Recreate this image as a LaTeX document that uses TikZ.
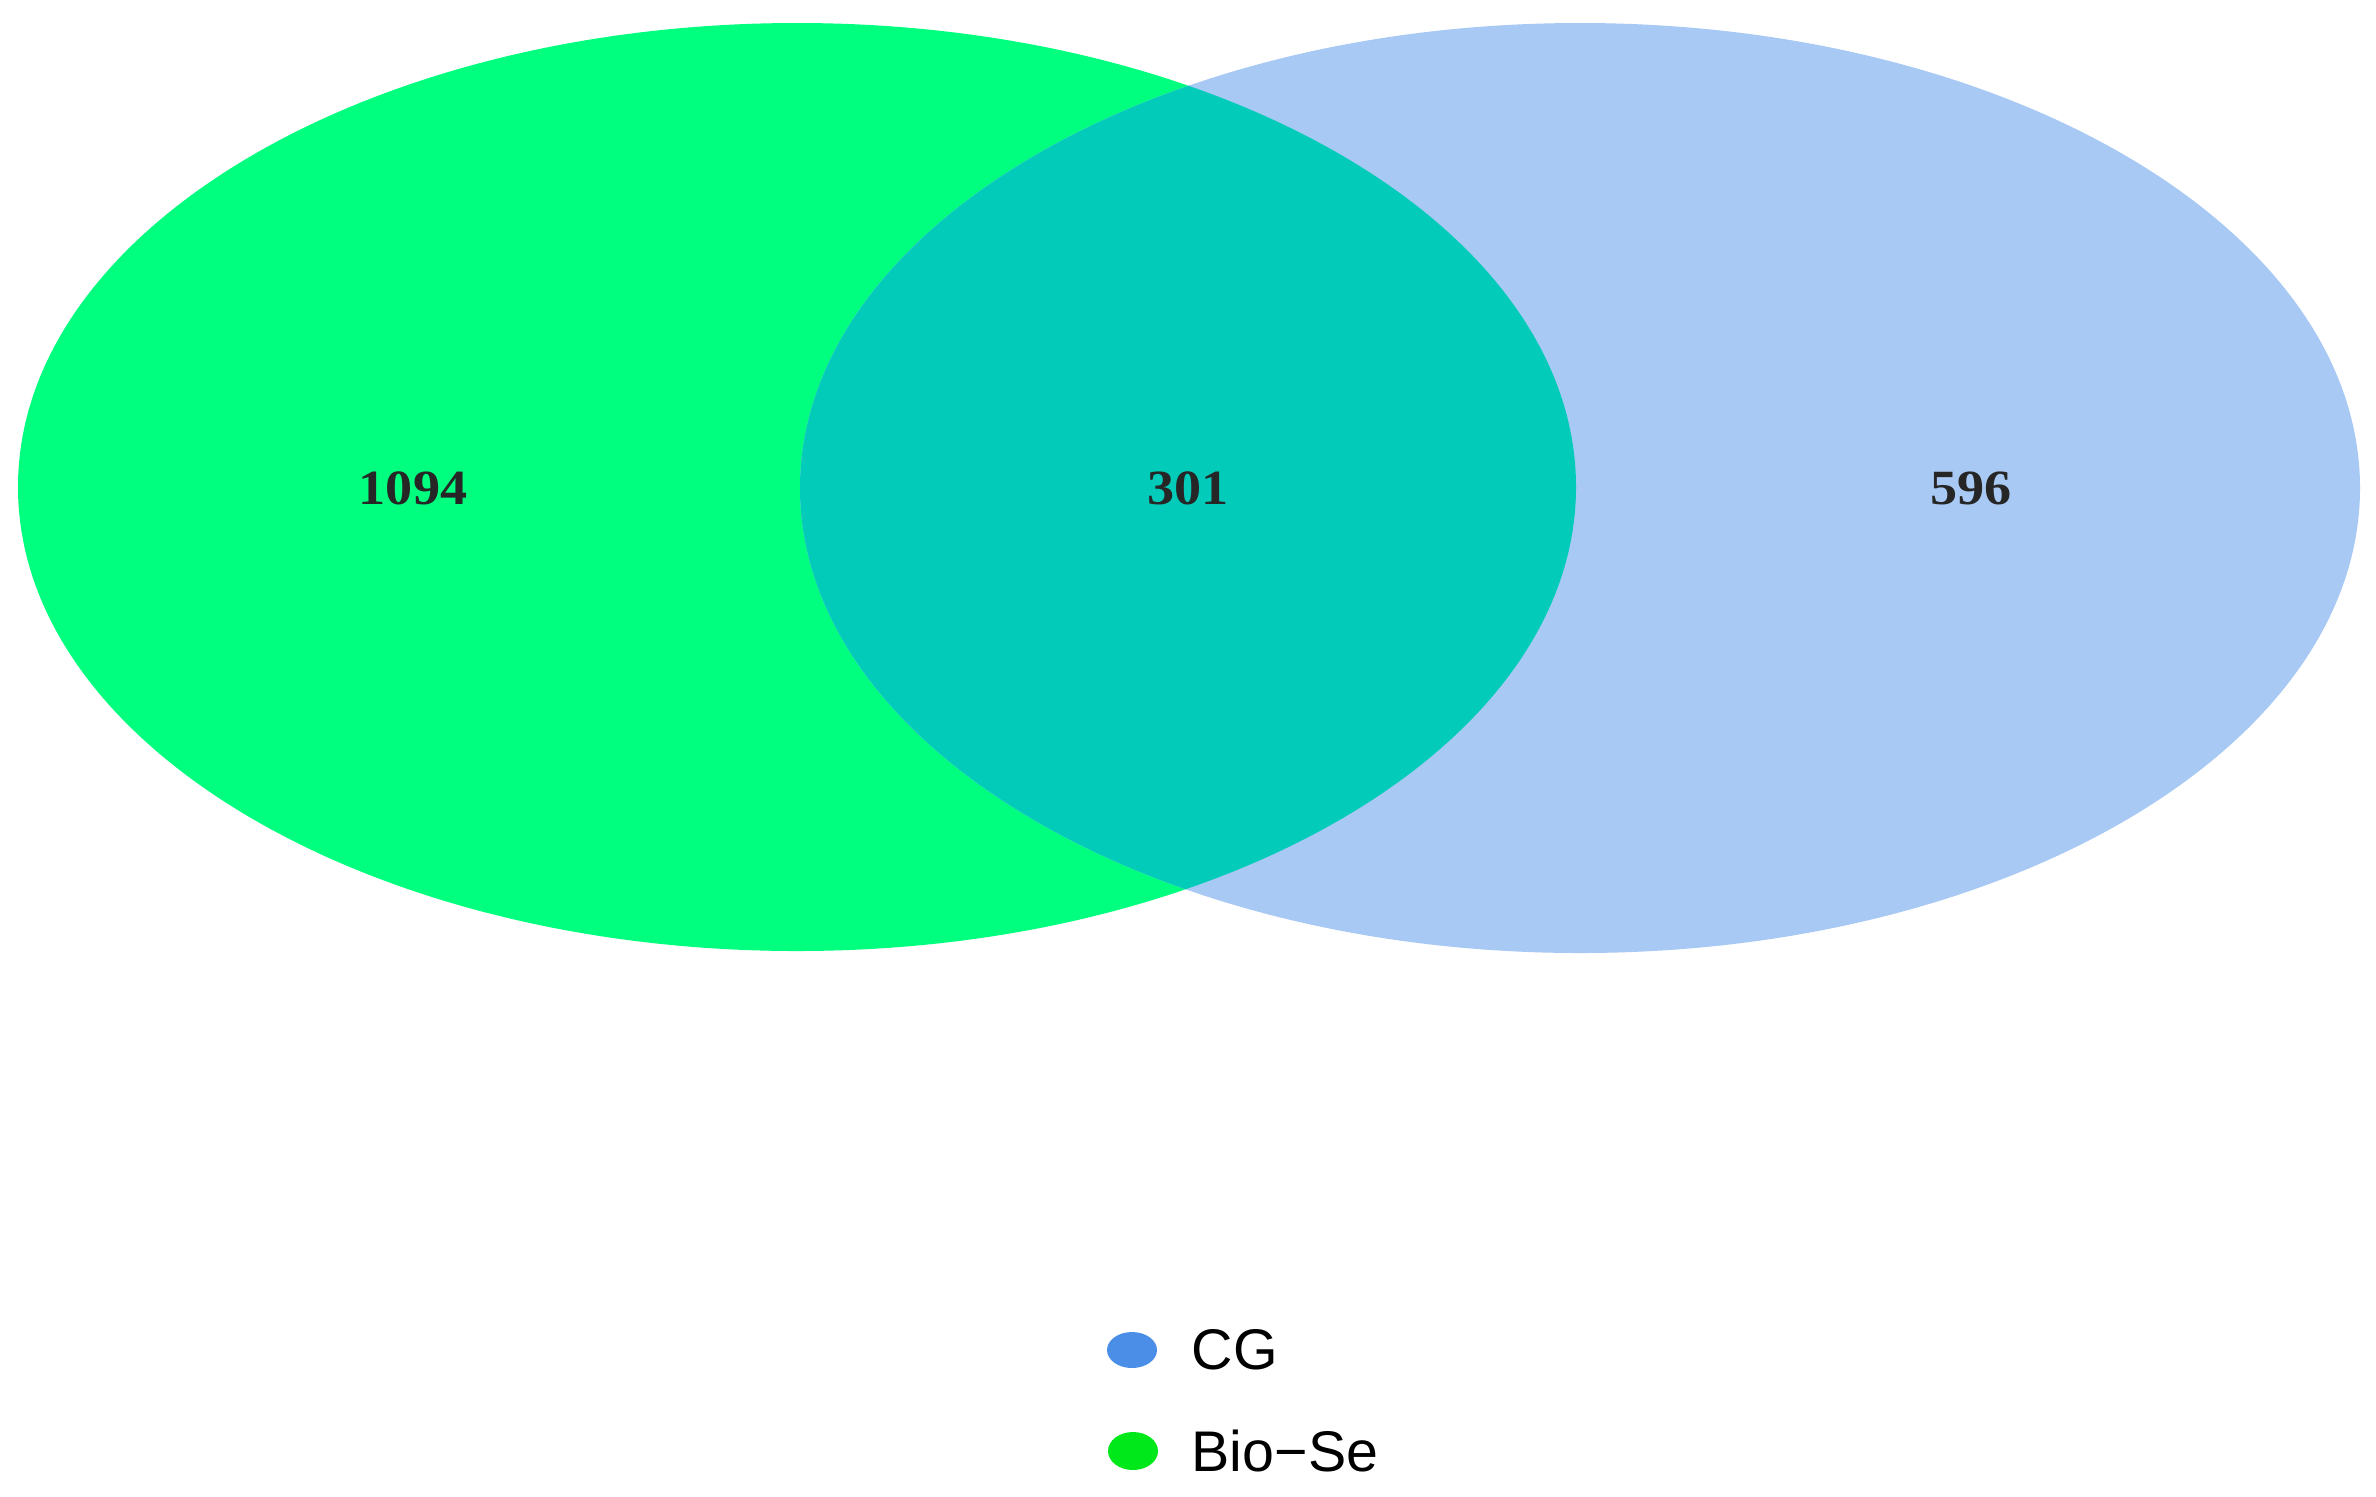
\documentclass[tikz,border=0pt]{standalone}
\usepackage{fontspec}
\setmainfont{Liberation Serif}
\newfontfamily\legfont{Liberation Sans}
\definecolor{vgreen}{HTML}{00FF7F}
\definecolor{vblue}{HTML}{A8C9F4}
\definecolor{vover}{HTML}{03CBB9}
\definecolor{lblue}{HTML}{4A8EE8}
\definecolor{lgreen}{HTML}{00E81A}
\tikzset{
  cnt/.style={font=\bfseries\fontsize{14}{16}\selectfont, text=black!85, inner sep=0pt},
  leg/.style={font=\legfont\fontsize{16.3}{19}\selectfont, anchor=west, inner sep=0pt},
}
\begin{document}
\begin{tikzpicture}[x=0.01cm,y=-0.01cm]
\useasboundingbox (0,0) rectangle (2376,1496);
\fill[white] (0,0) rectangle (2376,1496);
% sets
\fill[vgreen] (797,487) ellipse [x radius=779, y radius=464];
\fill[vblue] (1580,488) ellipse [x radius=780, y radius=465];
\begin{scope}
  \clip (797,487) ellipse [x radius=779, y radius=464];
  \fill[vover] (1580,488) ellipse [x radius=780, y radius=465];
\end{scope}
% counts
\node[cnt] (a) at (413,488) {\addfontfeature{FakeStretch=1.1}1094};
\node[cnt] (ab) at (1188,488) {\addfontfeature{FakeStretch=1.1}301};
\node[cnt] (b) at (1971,488) {\addfontfeature{FakeStretch=1.1}596};
% legend
\fill[lblue] (1132,1350) ellipse [x radius=25, y radius=18];
\fill[lgreen] (1133,1451) ellipse [x radius=25, y radius=19];
\node[leg] (lcg) at (1191,1350) {CG};
\node[leg] (lbio) at (1191,1451) {Bio−Se};
\end{tikzpicture}
\end{document}
